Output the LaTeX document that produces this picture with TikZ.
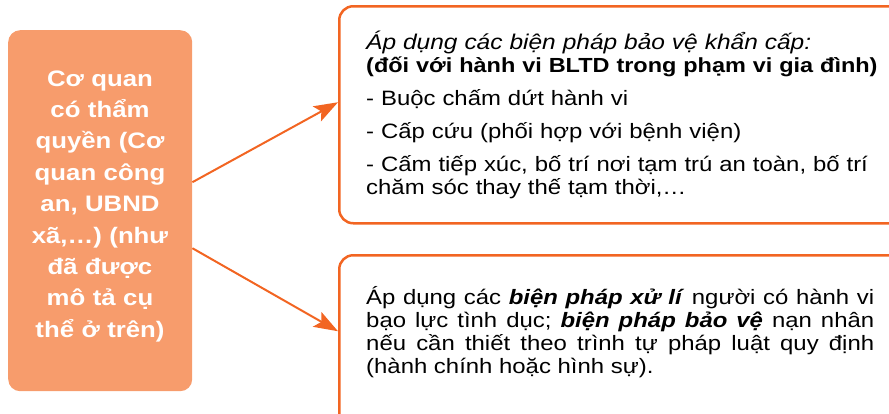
\documentclass[tikz,border=0pt]{standalone}
\usepackage{fontspec}
\setmainfont[FakeStretch=1.15]{Liberation Sans}
\usetikzlibrary{arrows.meta}
\definecolor{boxorange}{HTML}{F26522}
\definecolor{leftfill}{HTML}{F79C6C}
\frenchspacing
\begin{document}
\begin{tikzpicture}[x=1pt,y=-1pt,
  leftbox/.style={fill=leftfill, rounded corners=12pt, inner sep=0pt},
  rbox/.style={draw=boxorange, line width=2.5pt, rounded corners=14pt, inner sep=0pt},
  conn/.style={draw=boxorange, line width=2pt, -{Stealth[length=24pt,width=17pt,inset=5pt]}},
  ltext/.style={text=white, font=\fontsize{22.4}{31.4}\selectfont\bfseries, align=center, text width=180pt, inner sep=0pt, anchor=base},
  rtext/.style={font=\fontsize{20.8}{23}\selectfont, inner sep=0pt, anchor=base west, text width=508pt}
]
\useasboundingbox (0,0) rectangle (889,413);
\clip (0,0) rectangle (889,413);
\node[leftbox, minimum width=184pt, minimum height=361pt, anchor=north west] (L) at (8,30) {};
\node[rbox, minimum width=567pt, minimum height=217pt, anchor=north west] (T) at (338,5) {};
\node[rbox, minimum width=567pt, minimum height=200pt, anchor=north west] (B) at (338,254) {};
\node[ltext] (Lt) at (100,86) {Cơ quan\\có thẩm\\quyền (Cơ\\quan công\\an, UBND\\xã,…) (như\\đã được\\mô tả cụ\\thể ở trên)};
\node[rtext, align=left, text width=540pt] (Tt) at (366,49) {{\fontsize{21.3}{23}\selectfont\itshape Áp dụng các biện pháp bảo vệ khẩn cấp:}\\
{\fontsize{20.4}{23}\selectfont\bfseries (đối với hành vi BLTD trong phạm vi gia đình)}\\[10pt]
- Buộc chấm dứt hành vi\\[10pt]
- Cấp cứu (phối hợp với bệnh viện)\\[10pt]
- Cấm tiếp xúc, bố trí nơi tạm trú an toàn, bố trí\\
chăm sóc thay thế tạm thời,…};
\node[rtext, align=justify] (Bt) at (366,304) {\hyphenpenalty=10000 Áp dụng các \textbf{\textit{biện pháp xử lí}} người có hành vi\linebreak
bạo lực tình dục; \textbf{\textit{biện pháp bảo vệ}} nạn nhân\linebreak
nếu cần thiết theo trình tự pháp luật quy định\linebreak
(hành chính hoặc hình sự).};
\draw[conn] ([yshift=28.5pt]L.east) -- ([yshift=12.5pt]T.west);
\draw[conn] ([yshift=-37.5pt]L.east) -- ([yshift=24pt]B.west);
\end{tikzpicture}
\end{document}
